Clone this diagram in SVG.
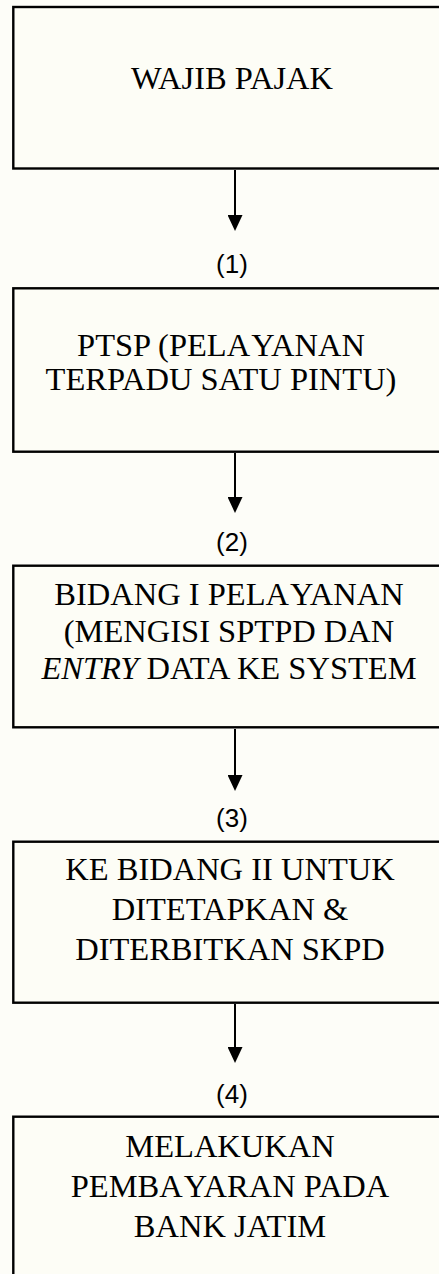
<svg xmlns="http://www.w3.org/2000/svg" width="439" height="1274" viewBox="0 0 439 1274">
  <defs>
    <marker id="ah" viewBox="0 0 16 15" refX="8" refY="7.5" markerWidth="16" markerHeight="15" markerUnits="userSpaceOnUse" orient="auto">
      <path d="M0,0 L16,7.5 L0,15 Z" fill="#000"/>
    </marker>
    <style>
      .box { fill: #fdfdf6; stroke: #000; stroke-width: 2.4; }
      .t { font-family: "Liberation Serif", "Times New Roman", serif; font-size: 32.5px; fill: #000; text-anchor: middle; }
      .lbl { font-family: "Liberation Sans", Arial, sans-serif; font-size: 26px; fill: #000; text-anchor: middle; }
      .conn { stroke: #000; stroke-width: 2; fill: none; }
    </style>
  </defs>
  <rect x="0" y="0" width="439" height="1274" fill="#fdfdf8"/>

  <g id="n1">
    <rect class="box" x="13.3" y="7" width="440" height="161.5"/>
    <text class="t" x="232" y="89">WAJIB PAJAK</text>
  </g>
  <g id="n2">
    <rect class="box" x="13.3" y="288.3" width="440" height="163.4"/>
    <text class="t" x="221" y="356">PTSP (PELA<tspan dx="4">YANAN</tspan></text>
    <text class="t" x="221" y="390">TERPADU SATU PINTU)</text>
  </g>
  <g id="n3">
    <rect class="box" x="13.3" y="565.7" width="440" height="161.6"/>
    <text class="t" x="229" y="605">BIDANG I PELA<tspan dx="4">YANAN</tspan></text>
    <text class="t" x="229" y="642">(MENGISI SPTPD DAN</text>
    <text class="t" x="229" y="679"><tspan font-style="italic">ENTRY</tspan> DATA KE SYSTEM</text>
  </g>
  <g id="n4">
    <rect class="box" x="13.3" y="841.7" width="440" height="161"/>
    <text class="t" x="230" y="880">KE BIDANG II UNTUK</text>
    <text class="t" x="230" y="920">DITETAPKAN &amp;</text>
    <text class="t" x="230" y="960">DITERBITKAN SKPD</text>
  </g>
  <g id="n5">
    <rect class="box" x="13.3" y="1116.7" width="440" height="200"/>
    <text class="t" x="230" y="1157">MELAKUKAN</text>
    <text class="t" x="230" y="1197">PEMBA<tspan dx="4">YARAN PADA</tspan></text>
    <text class="t" x="230" y="1237">BANK JATIM</text>
  </g>

  <g id="connectors">
    <line class="conn" x1="235" y1="170" x2="235" y2="223" marker-end="url(#ah)"/>
    <line class="conn" x1="235" y1="453" x2="235" y2="505" marker-end="url(#ah)"/>
    <line class="conn" x1="235" y1="729" x2="235" y2="783" marker-end="url(#ah)"/>
    <line class="conn" x1="235" y1="1004" x2="235" y2="1055" marker-end="url(#ah)"/>
    <text class="lbl" x="232" y="273">(1)</text>
    <text class="lbl" x="232" y="551">(2)</text>
    <text class="lbl" x="232" y="827">(3)</text>
    <text class="lbl" x="232" y="1103">(4)</text>
  </g>
</svg>
